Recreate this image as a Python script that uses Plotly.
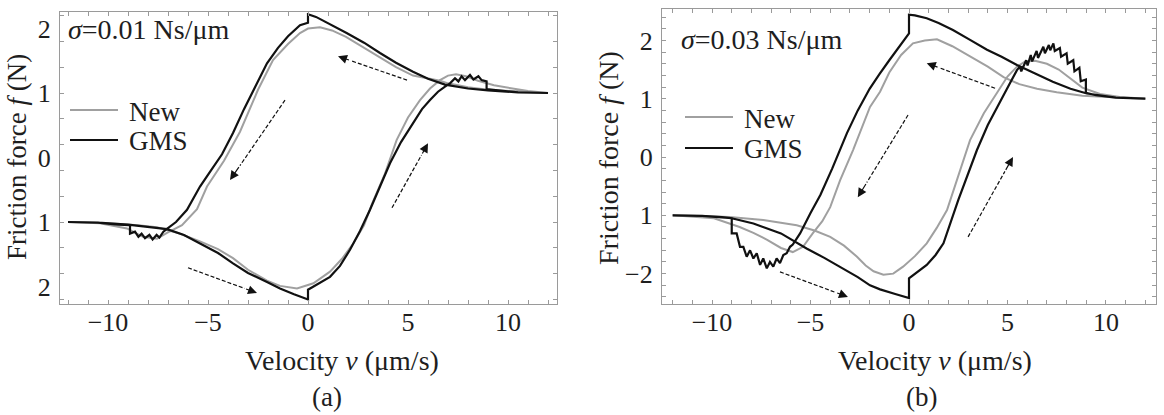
import plotly.graph_objects as go

# ---------------- data ----------------
# Panel (a): sigma = 0.01 Ns/um
a_new_v = [-12, -10, -8.5, -7.55, -6.5, -5.4, -4.5, -3.75, -3, -2.05, -1.4, -0.55, 0.27, 1.1, 1.7, 2.27,
           2.8, 3.2, 3.85, 4.43, 5.0, 5.6, 6.1, 6.6, 7.0, 7.4, 7.9, 8.5, 9.3, 10.25, 11, 12,
           10.5, 9, 8, 7, 6.6, 5.25, 4.4, 3.6, 2.7, 1.9, 1.2, 0.6, 0.0, -0.4, -1.0, -1.75, -2.5,
           -3.4, -4.2, -5.05, -5.55, -6.3, -7.05, -7.55, -8.25, -9.05, -10.4, -12]
a_new_f = [-1.0, -1.02, -1.05, -1.08, -1.17, -1.3, -1.42, -1.56, -1.74, -1.91, -1.99, -2.03, -1.95, -1.77,
           -1.57, -1.33, -1.05, -0.72, -0.25, 0.27, 0.62, 0.89, 1.07, 1.2, 1.27, 1.29, 1.26, 1.19, 1.12,
           1.07, 1.03, 1.0,
           1.02, 1.05, 1.09, 1.15, 1.19, 1.27, 1.4, 1.55, 1.72, 1.87, 1.97, 2.02, 2.0, 1.93, 1.76, 1.51,
           1.05, 0.4, -0.05, -0.45, -0.8, -1.05, -1.17, -1.26, -1.23, -1.1, -1.02, -1.0]

a_gms_v = [-12, -10.5, -9, -8, -7.05, -6.2, -5.4, -4.5, -3.75, -3, -2.05, -1.4, -0.7, 0, 0, 0.5, 1.1, 1.6,
           2.1, 2.6, 3.1, 3.6, 4.1, 4.65, 5.25, 5.7, 6.1, 6.5, 6.85, 7.1, 7.35, 7.52, 7.68, 7.85, 8.1,
           8.27, 8.52, 8.68, 8.93, 8.93, 9.5, 10.5, 12,
           10.5, 9, 8, 6.85, 6, 5.25, 4.4, 3.6, 2.8, 1.93, 1.0, 0.4, 0, 0, -0.4, -1.0, -1.5, -2.05,
           -2.6, -3.2, -3.75, -4.3, -4.85, -5.4, -6.05, -6.6, -7.07, -7.23, -7.43, -7.57, -7.77, -7.93,
           -8.15, -8.32, -8.48, -8.65, -8.9, -8.9, -9.5, -10.5, -12]
a_gms_f = [-1.0, -1.01, -1.04, -1.07, -1.11, -1.2, -1.33, -1.48, -1.64, -1.79, -1.93, -2.03, -2.12, -2.2,
           -2.05, -1.96, -1.85, -1.68, -1.43, -1.14, -0.81, -0.45, -0.09, 0.24, 0.53, 0.75, 0.89, 1.02,
           1.1, 1.15, 1.23, 1.18, 1.26, 1.2, 1.28, 1.21, 1.26, 1.2, 1.18, 1.06, 1.04, 1.01, 1.0,
           1.01, 1.04, 1.07, 1.13, 1.22, 1.33, 1.47, 1.62, 1.78, 1.93, 2.09, 2.18, 2.22, 2.09, 2.05,
           1.88, 1.7, 1.46, 1.12, 0.75, 0.38, 0.05, -0.2, -0.45, -0.81, -1.0, -1.11, -1.15, -1.24, -1.2,
           -1.27, -1.2, -1.25, -1.18, -1.23, -1.15, -1.18, -1.05, -1.04, -1.01, -1.0]

# Panel (b): sigma = 0.03 Ns/um
b_new_v = [-12, -10.5, -9.1, -7.4, -5.7, -4.8, -4.0, -3.3, -2.64, -2.2, -1.8, -1.3, -0.8, -0.3, 0.3, 0.9,
           1.4, 1.93, 2.5, 3.1, 3.8, 4.47, 5.0, 5.48, 5.9, 6.4, 7.0, 7.6, 8.2, 8.8, 9.7, 10.7, 12,
           10.5, 8.8, 7.5, 6.5, 5.6, 4.8, 4.0, 3.1, 2.2, 1.42, 0.8, 0.2, -0.4, -1.0, -1.47, -1.98,
           -2.84, -3.5, -4.0, -4.4, -4.87, -5.38, -5.9, -6.5, -7.2, -7.9, -8.6, -9.9, -11, -12]
b_new_f = [-1.0, -1.01, -1.03, -1.08, -1.17, -1.26, -1.37, -1.52, -1.71, -1.86, -1.96, -2.02, -2.0, -1.88,
           -1.7, -1.48, -1.22, -0.91, -0.33, 0.29, 0.75, 1.1, 1.38, 1.55, 1.64, 1.65, 1.6, 1.5, 1.34,
           1.19, 1.08, 1.03, 1.0,
           1.02, 1.05, 1.11, 1.17, 1.25, 1.37, 1.55, 1.72, 1.9, 2.02, 2.0, 1.95, 1.75, 1.45, 1.12, 0.86,
           0.12, -0.4, -0.86, -1.1, -1.3, -1.54, -1.63, -1.56, -1.42, -1.3, -1.2, -1.05, -1.02, -1.0]

b_gms_v = [-12, -10.5, -9, -7.9, -6.5, -5.2, -4.3, -3.5, -2.6, -1.98, -1.47, -0.7, 0, 0, 0.4, 0.9, 1.35,
           1.75, 2.5, 3.45, 4.0, 4.6, 5.13, 5.48, 5.63, 5.7, 5.95, 6.02, 6.18, 6.25, 6.48, 6.55, 6.82,
           6.9, 7.1, 7.17, 7.33, 7.4, 7.66, 7.72, 8.0, 8.06, 8.34, 8.4, 8.65, 8.72, 8.98, 8.98, 9.5,
           10.5, 12,
           10.5, 9.03, 8.2, 7.3, 6.4, 5.48, 4.7, 3.96, 3.1, 2.23, 1.5, 0.9, 0.3, 0, 0, -0.5, -1.0,
           -1.5, -2.0, -2.6, -3.15, -3.9, -4.5, -5.0, -5.53, -5.9, -6.04, -6.21, -6.38, -6.55, -6.72,
           -6.89, -7.06, -7.22, -7.4, -7.56, -7.73, -7.9, -8.07, -8.24, -8.41, -8.58, -8.75, -9.0,
           -9.0, -9.5, -10.5, -12]
b_gms_f = [-1.0, -1.01, -1.05, -1.14, -1.31, -1.57, -1.73, -1.88, -2.06, -2.2, -2.27, -2.35, -2.42,
           -2.08, -1.98, -1.85, -1.68, -1.48, -0.74, 0.12, 0.55, 0.92, 1.27, 1.49, 1.55, 1.47, 1.66,
           1.57, 1.75, 1.64, 1.82, 1.7, 1.89, 1.78, 1.92, 1.83, 1.95, 1.82, 1.87, 1.72, 1.78, 1.6,
           1.66, 1.47, 1.53, 1.3, 1.33, 1.1, 1.06, 1.02, 1.0,
           1.02, 1.09, 1.17, 1.29, 1.43, 1.58, 1.72, 1.84, 2.01, 2.18, 2.3, 2.38, 2.43, 2.44, 2.12,
           1.9, 1.66, 1.42, 1.17, 0.8, 0.41, -0.2, -0.65, -0.96, -1.31, -1.5, -1.54, -1.65, -1.68,
           -1.82, -1.74, -1.88, -1.8, -1.91, -1.74, -1.85, -1.65, -1.74, -1.6, -1.71, -1.54, -1.54,
           -1.31, -1.31, -1.05, -1.03, -1.01, -1.0]

# direction arrows (tail v, tail f, head v, head f)
a_arrows = [(4.95, 1.2, 1.5, 1.57), (4.2, -0.78, 6.0, 0.22),
            (-1.15, 0.89, -3.9, -0.35), (-6.0, -1.71, -2.55, -2.1)]
b_arrows = [(4.37, 1.18, 0.9, 1.61), (3.0, -1.37, 5.28, 0.0),
            (-0.05, 0.72, -2.6, -0.69), (-6.55, -1.97, -3.1, -2.4)]

# tick labels / legend labels
x_tickvals = [-10, -5, 0, 5, 10]
x_ticktext = ["\u221210", "\u22125", "0", "5", "10"]
y_tickvals = [-2, -1, 0, 1, 2]
a_y_ticktext = ["2", "1", "0", "1", "2"]
b_y_ticktext = ["\u22122", "1", "0", "1", "2"]
a_y_tickmarks = [-2.2, -1.8, -1.4, -1.0, -0.6, -0.2, 0.2, 0.6, 1.0, 1.4, 1.8, 2.2]
series_names = ["New", "GMS"]

# ---------------- style ----------------
W, H = 1164, 415
SERIF = "Liberation Serif, Tinos, Times New Roman, DejaVu Serif, serif"
GRAY = "#a0a0a0"
BLACK = "#111111"
AXC = "#9a9a9a"
TXT = "#1e1e1e"


def px(x):
    return x / W


def py(y):
    return 1 - y / H


fig = go.Figure()

fig.add_trace(go.Scatter(x=a_new_v, y=a_new_f, mode="lines", name=series_names[0],
                         line=dict(color=GRAY, width=2), xaxis="x", yaxis="y", showlegend=False))
fig.add_trace(go.Scatter(x=a_gms_v, y=a_gms_f, mode="lines", name=series_names[1],
                         line=dict(color=BLACK, width=2.2), xaxis="x", yaxis="y", showlegend=False))
fig.add_trace(go.Scatter(x=b_new_v, y=b_new_f, mode="lines", name=series_names[0],
                         line=dict(color=GRAY, width=2), xaxis="x2", yaxis="y2", showlegend=False))
fig.add_trace(go.Scatter(x=b_gms_v, y=b_gms_f, mode="lines", name=series_names[1],
                         line=dict(color=BLACK, width=2.2), xaxis="x2", yaxis="y2", showlegend=False))
# invisible trace to activate the tick-mark overlay axis of panel (a)
fig.add_trace(go.Scatter(x=[], y=[], xaxis="x", yaxis="y3", showlegend=False, hoverinfo="skip"))

annotations = []
for arrows, xa_, ya_ in [(a_arrows, "x", "y"), (b_arrows, "x2", "y2")]:
    for tv, tf, hv, hf in arrows:
        mv = hv - 0.18 * (hv - tv)
        mf = hf - 0.18 * (hf - tf)
        fig.add_trace(go.Scatter(x=[tv, mv], y=[tf, mf], mode="lines", showlegend=False,
                                 line=dict(color=BLACK, width=1.2, dash="4px,2px"),
                                 xaxis=xa_, yaxis=ya_, hoverinfo="skip"))
        annotations.append(dict(x=hv, y=hf, ax=mv, ay=mf, xref=xa_, yref=ya_, axref=xa_, ayref=ya_,
                                text="", showarrow=True, arrowhead=2, arrowsize=1.5,
                                arrowwidth=1.2, arrowcolor=BLACK, standoff=0))

tickfont = dict(family=SERIF, size=26, color=TXT)
txtfont = dict(family=SERIF, size=28, color=TXT)

common_x = dict(tickvals=x_tickvals, ticktext=x_ticktext, ticks="inside", ticklen=4,
                tickcolor=AXC, showline=True, linecolor=AXC, linewidth=1.3, mirror="ticks",
                showgrid=False, zeroline=False, tickfont=tickfont, ticklabelstandoff=-5,
                minor=dict(dtick=1, tick0=0, ticks="inside", ticklen=4, tickcolor=AXC, showgrid=False))

xa = dict(common_x)
xa.update(range=[-12.4, 12.45], domain=[px(60), px(557)], anchor="y")
xb = dict(common_x)
xb.update(range=[-12.54, 12.54], domain=[px(662), px(1156)], anchor="y2")

ya = dict(range=[-2.271, 2.256], domain=[py(304), py(12)], anchor="x", tickvals=y_tickvals,
          ticktext=a_y_ticktext, ticks="", showline=True, linecolor=AXC, linewidth=1.3, mirror=True,
          showgrid=False, zeroline=False, tickfont=tickfont, ticklabelstandoff=3)
ya3 = dict(range=[-2.271, 2.256], overlaying="y", anchor="x", side="left", tickvals=a_y_tickmarks,
           ticks="inside", ticklen=4, tickcolor=AXC, showticklabels=False, showline=False,
           mirror="ticks", showgrid=False, zeroline=False)
yb = dict(range=[-2.521, 2.539], domain=[py(304), py(9)], anchor="x2", tickvals=y_tickvals,
          ticktext=b_y_ticktext, ticks="inside", ticklen=4, tickcolor=AXC, showline=True,
          linecolor=AXC, linewidth=1.3, mirror="ticks", showgrid=False, zeroline=False,
          tickfont=tickfont, ticklabelstandoff=3,
          minor=dict(dtick=0.2, tick0=0, ticks="inside", ticklen=4, tickcolor=AXC, showgrid=False))

# legend replicas (sample line + label) inside each panel
shapes = []
legend_items = [  # (x0, x1, y_line, y_text, x_text) in pixels
    [(70, 118, 110, 112, 127), (70, 118, 140, 141, 127)],
    [(685, 733, 117, 119, 742), (685, 733, 148, 149, 742)],
]
for items in legend_items:
    for (x0, x1, yl, yt, xt), name, col in zip(items, series_names, [GRAY, BLACK]):
        shapes.append(dict(type="line", xref="paper", yref="paper", x0=px(x0), x1=px(x1),
                           y0=py(yl), y1=py(yl), line=dict(color=col, width=2)))
        annotations.append(dict(text=name, x=px(xt), y=py(yt), xref="paper", yref="paper",
                                showarrow=False, font=dict(family=SERIF, size=27, color=TXT),
                                xanchor="left", yanchor="middle"))

annotations += [
    dict(text="Velocity <i>v</i> (\u03bcm/s)", x=px(342), y=py(360), xref="paper", yref="paper",
         showarrow=False, font=txtfont, xanchor="center", yanchor="middle"),
    dict(text="Velocity <i>v</i> (\u03bcm/s)", x=px(935), y=py(360), xref="paper", yref="paper",
         showarrow=False, font=txtfont, xanchor="center", yanchor="middle"),
    dict(text="(a)", x=px(327), y=py(397), xref="paper", yref="paper", showarrow=False,
         font=dict(family=SERIF, size=27, color=TXT), xanchor="center", yanchor="middle"),
    dict(text="(b)", x=px(921), y=py(397), xref="paper", yref="paper", showarrow=False,
         font=dict(family=SERIF, size=27, color=TXT), xanchor="center", yanchor="middle"),
    dict(text="Friction force <i>f</i> (N)", x=0, y=py(157), xref="paper", yref="paper",
         showarrow=False, font=dict(family=SERIF, size=27, color=TXT), textangle=-90,
         xanchor="left", yanchor="middle"),
    dict(text="Friction force <i>f</i> (N)", x=px(608), y=py(158), xref="paper", yref="paper",
         showarrow=False, font=txtfont, textangle=-90, xanchor="center", yanchor="middle"),
    dict(text="<i>\u03c3</i>=0.01 Ns/\u03bcm", x=px(66), y=py(29), xref="paper", yref="paper",
         showarrow=False, font=txtfont, xanchor="left", yanchor="middle"),
    dict(text="<i>\u03c3</i>=0.03 Ns/\u03bcm", x=px(679), y=py(40), xref="paper", yref="paper",
         showarrow=False, font=txtfont, xanchor="left", yanchor="middle"),
]

fig.update_layout(
    width=W, height=H, margin=dict(l=0, r=0, t=0, b=0),
    paper_bgcolor="white", plot_bgcolor="white",
    xaxis=xa, yaxis=ya, yaxis3=ya3, xaxis2=xb, yaxis2=yb,
    annotations=annotations, shapes=shapes, showlegend=False,
)

fig.write_html("out.html")
